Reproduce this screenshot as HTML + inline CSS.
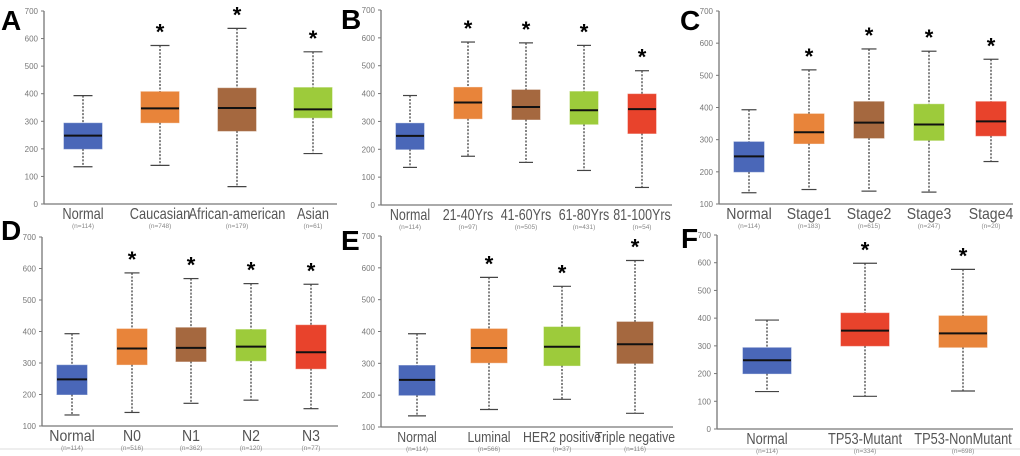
<!DOCTYPE html>
<html><head><meta charset="utf-8">
<style>
html,body{margin:0;padding:0;background:#fff;}
svg{display:block;font-family:"Liberation Sans",Arial,sans-serif;}
</style></head>
<body>
<svg id="fig" width="1020" height="456" viewBox="0 0 1020 456" xmlns="http://www.w3.org/2000/svg"></svg>
<script>
// ---- data ----
const catsA = ["Normal","Caucasian","African-american","Asian"];
const nA = ["(n=114)","(n=748)","(n=179)","(n=61)"];
const minA = [135,140,63,183];
const q1A = [200,295,265,313];
const medA = [248,347,348,343];
const q3A = [293,407,420,422];
const maxA = [393,575,637,552];

const catsB = ["Normal","21-40Yrs","41-60Yrs","61-80Yrs","81-100Yrs"];
const nB = ["(n=114)","(n=97)","(n=505)","(n=431)","(n=54)"];
const minB = [135,175,153,124,63];
const q1B = [200,310,307,290,257];
const medB = [248,368,352,340,344];
const q3B = [293,422,413,407,398];
const maxB = [393,585,582,573,482];

const catsC = ["Normal","Stage1","Stage2","Stage3","Stage4"];
const nC = ["(n=114)","(n=183)","(n=615)","(n=247)","(n=20)"];
const minC = [135,145,140,137,232];
const q1C = [200,288,305,298,312];
const medC = [248,323,353,347,357];
const q3C = [293,380,418,410,418];
const maxC = [393,517,582,575,550];

const catsD = ["Normal","N0","N1","N2","N3"];
const nD = ["(n=114)","(n=516)","(n=362)","(n=120)","(n=77)"];
const minD = [135,143,172,182,155];
const q1D = [200,295,305,307,282];
const medD = [248,346,348,352,334];
const q3D = [293,408,412,406,420];
const maxD = [393,586,568,552,550];

const catsE = ["Normal","Luminal","HER2 positive","Triple negative"];
const nE = ["(n=114)","(n=566)","(n=37)","(n=116)"];
const minE = [135,155,187,143];
const q1E = [200,302,293,300];
const medE = [248,348,352,360];
const q3E = [293,408,414,430];
const maxE = [393,570,542,623];

const catsF = ["Normal","TP53-Mutant","TP53-NonMutant"];
const nF = ["(n=114)","(n=334)","(n=698)"];
const minF = [135,118,137];
const q1F = [200,300,295];
const medF = [248,355,345];
const q3F = [293,418,408];
const maxF = [393,598,576];

const ticks0 = [0,100,200,300,400,500,600,700];
const ticks100 = [100,200,300,400,500,600,700];

const BLUE="#4a67b8", OR="#e8843a", BR="#a5683f", GR="#9dcb3b", RD="#e8432c";
const NS="http://www.w3.org/2000/svg";
const svg=document.getElementById('fig');
function el(tag,attrs,parent){const e=document.createElementNS(NS,tag);for(const k in attrs)e.setAttribute(k,attrs[k]);(parent||svg).appendChild(e);return e;}

function panel(o){
  const g=el('g',{});
  
  
  const y=v=>o.y0+(v-o.vmin)*(o.yTop-o.y0)/(700-o.vmin);
  const L=el('text',{x:o.lx,y:o.ly,'font-size':28,'font-weight':'bold',fill:'#000'},g);
  L.textContent=o.letter;
  
  
  const ya=el('line',{x1:o.ax,y1:o.yTop,x2:o.ax,y2:o.y0,stroke:'#777','stroke-width':1.3},g);
  
  
  const xa=el('line',{x1:o.ax,y1:o.y0,x2:o.xEnd,y2:o.y0,stroke:'#777','stroke-width':1.3},g);
  
  
  o.ticks.forEach(t=>{
    el('line',{x1:o.ax-3,y1:y(t),x2:o.ax,y2:y(t),stroke:'#777','stroke-width':1},g);
    const tt=el('text',{x:o.ax-6,y:y(t)+3,'font-size':8,fill:'#777','text-anchor':'end'},g);
    tt.textContent=t;
    
    
  });
  o.cats.forEach((c,i)=>{
    const cx=o.cx[i], hw=o.hw;
    const col=o.cols[i];
    el('line',{x1:cx,y1:y(o.max[i]),x2:cx,y2:y(o.q3[i]),stroke:'#333','stroke-width':1.2,'stroke-dasharray':'2,1.5'},g);
    el('line',{x1:cx,y1:y(o.q1[i]),x2:cx,y2:y(o.min[i]),stroke:'#333','stroke-width':1.2,'stroke-dasharray':'2,1.5'},g);
    el('line',{x1:cx-hw*0.5,y1:y(o.max[i]),x2:cx+hw*0.5,y2:y(o.max[i]),stroke:'#444','stroke-width':1.2},g);
    el('line',{x1:cx-hw*0.5,y1:y(o.min[i]),x2:cx+hw*0.5,y2:y(o.min[i]),stroke:'#444','stroke-width':1.2},g);
    const b=el('rect',{x:cx-hw,y:y(o.q3[i]),width:2*hw,height:y(o.q1[i])-y(o.q3[i]),fill:col,stroke:col,'stroke-opacity':0.6,'stroke-width':1},g);
    
    
    el('line',{x1:cx-hw,y1:y(o.med[i]),x2:cx+hw,y2:y(o.med[i]),stroke:'#111','stroke-width':2},g);
    if(i>0){
      const s=el('text',{x:cx,y:y(o.max[i])-6,'font-size':22,'font-weight':'bold',fill:'#000','text-anchor':'middle'},g);
      s.textContent='*';
      
      
    }
    const lab=el('text',{x:cx,y:o.y0+15,'font-size':o.fs,fill:'#555','text-anchor':'middle'},g);
    lab.textContent=c;
    
    
    const w=lab.getComputedTextLength();
    if(w>0){lab.setAttribute('textLength',(w*o.sq).toFixed(1));lab.setAttribute('lengthAdjust','spacingAndGlyphs');}
    const n=el('text',{x:cx,y:o.y0+24,'font-size':6.5,fill:'#888','text-anchor':'middle'},g);
    n.textContent=o.n[i];
    
    
  });
}
el('line',{x1:0,y1:449,x2:1020,y2:449,stroke:'#ddd','stroke-width':1});

panel({letter:'A',lx:1,ly:30,ax:44,yTop:11,y0:204,vmin:0,xEnd:337,ticks:ticks0,cats:catsA,n:nA,min:minA,q1:q1A,med:medA,q3:q3A,max:maxA,cx:[83,160,237,313],hw:19,cols:[BLUE,OR,BR,GR],fs:16,sq:0.8});
panel({letter:'B',lx:341,ly:29,ax:381,yTop:10,y0:205,vmin:0,xEnd:672,ticks:ticks0,cats:catsB,n:nB,min:minB,q1:q1B,med:medB,q3:q3B,max:maxB,cx:[410,468,526,584,642],hw:14,cols:[BLUE,OR,BR,GR,RD],fs:16,sq:0.78});
panel({letter:'C',lx:680,ly:30,ax:719,yTop:11,y0:204,vmin:100,xEnd:1013,ticks:ticks100,cats:catsC,n:nC,min:minC,q1:q1C,med:medC,q3:q3C,max:maxC,cx:[749,809,869,929,991],hw:15,cols:[BLUE,OR,BR,GR,RD],fs:16,sq:0.88});
panel({letter:'D',lx:1,ly:240,ax:42,yTop:237,y0:426,vmin:100,xEnd:338,ticks:ticks100,cats:catsD,n:nD,min:minD,q1:q1D,med:medD,q3:q3D,max:maxD,cx:[72,132,191,251,311],hw:15,cols:[BLUE,OR,BR,GR,RD],fs:16,sq:0.88});
panel({letter:'E',lx:341,ly:250,ax:381,yTop:236,y0:427,vmin:100,xEnd:673,ticks:ticks100,cats:catsE,n:nE,min:minE,q1:q1E,med:medE,q3:q3E,max:maxE,cx:[417,489,562,635],hw:18,cols:[BLUE,OR,GR,BR],fs:15,sq:0.82});
panel({letter:'F',lx:681,ly:248,ax:717,yTop:235,y0:429,vmin:0,xEnd:1013,ticks:ticks0,cats:catsF,n:nF,min:minF,q1:q1F,med:medF,q3:q3F,max:maxF,cx:[767,865,963],hw:24,cols:[BLUE,RD,OR],fs:16,sq:0.8});
</script>
</body></html>
